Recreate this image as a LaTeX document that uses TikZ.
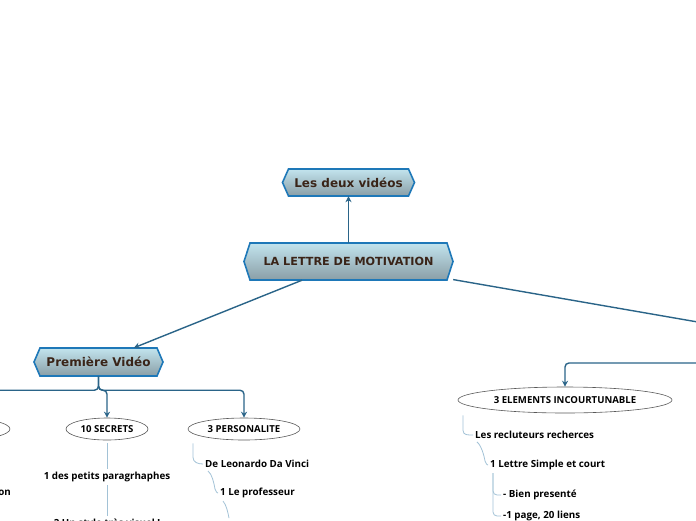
\documentclass[tikz,border=0pt]{standalone}
\usepackage{fontspec}
\setmainfont{Open Sans}
\newfontfamily\hexfont{DejaVu Sans}
\usetikzlibrary{arrows.meta,calc,shapes.geometric}
\definecolor{hexborder}{HTML}{1E78B8}
\definecolor{hextop}{HTML}{C2E4EE}
\definecolor{hexbot}{HTML}{8A9EA6}
\definecolor{hextext}{HTML}{3A2418}
\definecolor{mainline}{HTML}{2A6488}
\definecolor{lightline}{HTML}{A2C2D6}
\newcommand\hexbox[6]{%
  \path[hexfill] (#2-#4/2,#3-#5/2) -- (#2+#4/2,#3-#5/2) -- (#2+#4/2+6,#3) -- (#2+#4/2,#3+#5/2) -- (#2-#4/2,#3+#5/2) -- (#2-#4/2-6,#3) -- cycle;
  \node[hexlabel, minimum width=#4+12, minimum height=#5] (#1) at (#2,#3) {#6};
}
\begin{document}
\begin{tikzpicture}[x=1pt,y=-1pt,
  hexfill/.style={draw=hexborder, line width=1.6pt, line join=miter, top color=hextop, bottom color=hexbot},
  hexlabel/.style={inner sep=0pt, font=\hexfont\bfseries, text=hextext},
  main/.style={draw=mainline, line width=1.4pt},
  tip/.style={-{Stealth[length=6pt,width=6pt]}},
  light/.style={draw=lightline, line width=0.8pt},
  bubble/.style={ellipse, draw=black!65, line width=0.6pt, fill=white, inner sep=0pt, font=\bfseries\fontsize{9.6}{11}\selectfont},
  leaf/.style={inner sep=2pt, font=\bfseries\fontsize{9.8}{11}\selectfont, text=black}
]
\useasboundingbox (0,0) rectangle (696,520);
\clip (0,0) rectangle (696,520);

% hexagon nodes
\hexbox{deux}{348.5}{182.5}{120}{27}{\fontsize{12}{14}\selectfont Les deux vidéos}
\hexbox{lettre}{348.5}{261.5}{197}{37}{\fontsize{11.2}{13}\selectfont LA LETTRE DE MOTIVATION}
\hexbox{prem}{98.5}{362}{117}{28}{\fontsize{12}{14}\selectfont Première Vidéo}
\coordinate (v2) at (790,338);

% ellipses
\node[bubble, minimum width=100, minimum height=22] (gauche) at (-40,429) {};
\node[bubble, minimum width=82, minimum height=22] (secrets) at (107,429) {10 SECRETS};
\node[bubble, minimum width=112, minimum height=22] (perso) at (244,429) {3 PERSONALITE};
\node[bubble, minimum width=214, minimum height=26] (elem) at (565,400) {3 ELEMENTS INCOURTUNABLE};

% main connectors
\draw[main, tip] (lettre) -- (deux);
\draw[main, tip] (lettre) -- (prem);
\draw[main] (lettre) -- (v2);
\draw[main, tip, rounded corners=4] (prem.south) -- ++(0,14) -| (gauche.north);
\draw[main, tip, rounded corners=4] (prem.south) -- ++(0,14) -| (secrets.north);
\draw[main, tip, rounded corners=4] (prem.south) -- ++(0,14) -| (perso.north);
\draw[main, tip, rounded corners=4] (v2) ++(0,16) -- ++(0,9) -| (elem.north);

% leaves under 10 SECRETS
\node[leaf, anchor=east] (on) at (13,493) {on};
\node[leaf] (t1) at (107,477) {1 des petits paragrhaphes};
\node[leaf] (t2) at (107,524) {2 Un style très visuel !};
\draw[light, shorten <=3pt, shorten >=1pt] (secrets.south) -- (t1.north);
\draw[light, shorten <=1pt, shorten >=1pt] (t1.south) -- (t2.north);

% leaves under 3 PERSONALITE
\node[leaf, anchor=west] (leo) at (203,464) {De Leonardo Da Vinci};
\node[leaf, anchor=west] (prof) at (218,493) {1 Le professeur};
\draw[light] ($(perso.south)+(-51,3)$) -- ++(0,14) .. controls +(0,5) and +(-5,0) .. (leo.west);
\draw[light] ($(leo.south west)+(5,1)$) .. controls +(4,3) and +(-1,-6) .. ($(prof.west)+(-3,-4)$) .. controls +(1,3) and +(-1,0) .. (prof.west);
\draw[light] ($(prof.south west)+(5,1)$) .. controls +(3,3) and +(-1,-6) .. ($(prof.south west)+(11,18)$);

% leaves under 3 ELEMENTS
\node[leaf, anchor=west] (rec) at (473,435) {Les recluteurs recherces};
\node[leaf, anchor=west] (lt1) at (488,465) {1 Lettre Simple et court};
\node[leaf, anchor=west] (bien) at (501,495) {- Bien presenté};
\node[leaf, anchor=west] (page) at (501,516) {-1 page, 20 liens};
\draw[light] ($(elem.south)+(-102,2)$) -- ++(0,15) .. controls +(0,5) and +(-5,0) .. (rec.west);
\draw[light] ($(rec.south west)+(4,1)$) .. controls +(4,3) and +(-1,-6) .. ($(lt1.west)+(-3,-4)$) .. controls +(1,3) and +(-1,0) .. (lt1.west);
\draw[light, rounded corners=4] ($(lt1.south west)+(5,1)$) |- (bien.west);
\draw[light, rounded corners=4] ($(lt1.south west)+(5,1)$) |- (page.west);
\end{tikzpicture}
\end{document}
